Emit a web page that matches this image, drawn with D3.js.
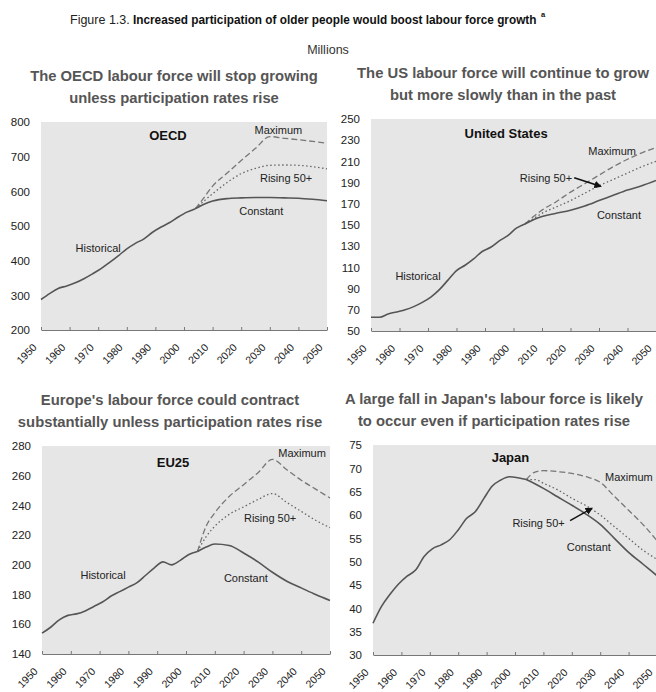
<!DOCTYPE html>
<html>
<head>
<meta charset="utf-8">
<script src="https://cdn.jsdelivr.net/npm/d3@7"></script>
<style>
  body { margin: 0; background: #fff; }
  svg { font-family: "Liberation Sans", Arial, sans-serif; }
</style>
</head>
<body>
<div id="chart"></div>
<script>
// Years for the historical and projected series
var histYears = [1950, 1953, 1956, 1959, 1962, 1965, 1968, 1971, 1974, 1977, 1980, 1983, 1986, 1989, 1992, 1995, 1998, 2001, 2004];
var projYears = [2004, 2007, 2010, 2015, 2020, 2025, 2030, 2035, 2040, 2045, 2050];
var xTickYears = [1950, 1960, 1970, 1980, 1990, 2000, 2010, 2020, 2030, 2040, 2050];

// OECD (millions)
var oecdHist = [288, 305, 320, 327, 336, 348, 362, 377, 395, 414, 434, 450, 463, 482, 497, 510, 526, 540, 550];
var oecdConstant = [550, 563, 572, 579, 581, 582, 582, 581, 580, 577, 573];
var oecdRising = [550, 572, 593, 625, 651, 666, 675, 676, 675, 671, 665];
var oecdMaximum = [550, 582, 615, 652, 689, 724, 758, 753, 749, 744, 739];

// United States
var usHist = [63, 63, 66, 68, 70, 73, 77, 82, 89, 98, 107, 112, 118, 125, 129, 135, 140, 147, 151];
var usConstant = [151, 155, 158, 161, 164, 168, 173, 178, 183, 187, 192];
var usRising = [151, 156, 161, 167, 173, 180, 187, 193, 199, 205, 210];
var usMaximum = [151, 158, 164, 172, 181, 189, 197, 205, 212, 218, 223];

// EU25
var euHist = [154, 158, 163, 166, 167, 169, 172, 175, 179, 182, 185, 188, 193, 198, 202, 200, 203, 207, 209];
var euConstant = [209, 212, 214, 213, 208, 202, 195, 189, 184.5, 180, 176];
var euRising = [209, 219, 226, 234, 239, 244, 248, 242, 236, 230, 225];
var euMaximum = [209, 226, 235, 246, 254, 262, 271, 264, 257, 251, 245];

// Japan
var jpHist = [36.8, 40.4, 43, 45.2, 46.9, 48.2, 51.1, 52.8, 53.6, 54.7, 56.8, 59.3, 60.7, 63.5, 66.2, 67.5, 68.2, 68.0, 67.6];
var jpConstant = [67.6, 66.7, 65.7, 63.9, 62.1, 60.2, 58, 55, 52, 49.5, 47];
var jpRising = [67.6, 67.6, 66.8, 65.4, 63.6, 62, 60, 57.5, 55, 52.5, 50.5];
var jpMaximum = [67.6, 69.2, 69.5, 69.3, 68.9, 68.2, 67, 64, 61, 58, 54.5];

var width = 656;
var height = 692;

var svg = d3.select("#chart")
  .append("svg")
  .attr("width", width)
  .attr("height", height);

// Figure heading
svg.append("text")
  .attr("x", 70)
  .attr("y", 24)
  .attr("font-size", 12.5)
  .attr("fill", "#222")
  .text("Figure 1.3.");
var bigTitle = svg.append("text")
  .attr("font-size", 12.5)
  .attr("font-weight", "bold")
  .attr("fill", "#111")
  .text("Increased participation of older people would boost labour force growth");
// squeeze the bold heading horizontally, the original type is condensed
var titleScale = 404 / bigTitle.node().getComputedTextLength();
bigTitle.attr("transform", "translate(133,24) scale(" + titleScale + ",1)");
svg.append("text")
  .attr("x", 541)
  .attr("y", 17)
  .attr("font-size", 7.5)
  .attr("font-weight", "bold")
  .attr("fill", "#111")
  .text("a");

svg.append("text")
  .attr("x", 328)
  .attr("y", 54)
  .attr("text-anchor", "middle")
  .attr("font-size", 12.5)
  .attr("fill", "#333")
  .text("Millions");

// panel setup: where each chart sits on the page
var panels = [
  {
    name: "OECD", left: 41, right: 327, top: 122, bottom: 330, titleX: 174,
    yDomain: [200, 800], yStep: 100,
    hist: oecdHist, constant: oecdConstant, rising: oecdRising, maximum: oecdMaximum,
    title: ["The OECD labour force will stop growing", "unless participation rates rise"],
    notes: [
      {text: "Maximum", year: 2033, value: 765},
      {text: "Rising 50+", year: 2035.7, value: 626},
      {text: "Constant", year: 2027, value: 533},
      {text: "Historical", year: 1970, value: 426}
    ],
    nameAt: {year: 1994.4, value: 748},
    arrow: null
  },
  {
    name: "United States", left: 371, right: 656, top: 119, bottom: 331, titleX: 503,
    yDomain: [50, 250], yStep: 20,
    hist: usHist, constant: usConstant, rising: usRising, maximum: usMaximum,
    title: ["The US labour force will continue to grow", "but more slowly than in the past"],
    notes: [
      {text: "Maximum", year: 2034.6, value: 216},
      {text: "Rising 50+", year: 2011.4, value: 191},
      {text: "Constant", year: 2037, value: 156},
      {text: "Historical", year: 1966.5, value: 98}
    ],
    nameAt: {year: 1997.4, value: 232},
    arrow: {from: [2021.3, 194.5], to: [2030.5, 186.5]}
  },
  {
    name: "EU25", left: 42, right: 330, top: 446, bottom: 654, titleX: 170,
    yDomain: [140, 280], yStep: 20,
    hist: euHist, constant: euConstant, rising: euRising, maximum: euMaximum,
    title: ["Europe's labour force could contract", "substantially unless participation rates rise"],
    notes: [
      {text: "Maximum", year: 2040.3, value: 272.6},
      {text: "Rising 50+", year: 2029.2, value: 228.8},
      {text: "Constant", year: 2020.8, value: 188.5},
      {text: "Historical", year: 1971.2, value: 190.5}
    ],
    nameAt: {year: 1995.5, value: 265.8},
    arrow: null
  },
  {
    name: "Japan", left: 373, right: 657, top: 445, bottom: 655, titleX: 494,
    yDomain: [30, 75], yStep: 5,
    hist: jpHist, constant: jpConstant, rising: jpRising, maximum: jpMaximum,
    title: ["A large fall in Japan's labour force is likely", "to occur even if participation rates rise"],
    notes: [
      {text: "Maximum", year: 2040.1, value: 67.3},
      {text: "Rising 50+", year: 2008.3, value: 57.4},
      {text: "Constant", year: 2026, value: 52.3}
    ],
    nameAt: {year: 1998.4, value: 71.4},
    arrow: {from: [2019.4, 58.8], to: [2027, 61.4]}
  }
];

// arrow head for the pointer lines
svg.append("defs").append("marker")
  .attr("id", "head")
  .attr("viewBox", "0 0 10 10")
  .attr("refX", 8)
  .attr("refY", 5)
  .attr("markerWidth", 5)
  .attr("markerHeight", 5)
  .attr("orient", "auto")
  .append("path")
  .attr("d", "M0,0L10,5L0,10z")
  .attr("fill", "#111");

panels.forEach(function(p) {
  var x = d3.scaleLinear().domain([1950, 2050]).range([p.left, p.right]);
  var y = d3.scaleLinear().domain(p.yDomain).range([p.bottom, p.top]);
  var g = svg.append("g");

  // panel title, two lines
  p.title.forEach(function(t, i) {
    g.append("text")
      .attr("x", p.titleX)
      .attr("y", p.top - 41 + i * 22)
      .attr("text-anchor", "middle")
      .attr("font-size", 14.8)
      .attr("font-weight", "bold")
      .attr("fill", "#555")
      .text(t);
  });

  // grey plot area
  g.append("rect")
    .attr("x", p.left)
    .attr("y", p.top)
    .attr("width", p.right - p.left)
    .attr("height", p.bottom - p.top)
    .attr("fill", "#e6e6e6");

  // y axis labels
  var yTicks = d3.range(p.yDomain[0], p.yDomain[1] + 0.001, p.yStep);
  var yAxis = g.append("g")
    .attr("transform", "translate(" + p.left + ",0)")
    .call(d3.axisLeft(y).tickValues(yTicks).tickSize(0).tickPadding(11));
  yAxis.select(".domain").remove();
  yAxis.selectAll("text")
    .attr("font-size", 11.5)
    .attr("fill", "#222")
    .attr("font-family", "Liberation Sans, Arial, sans-serif");

  // x axis with small ticks pointing up
  var xAxis = g.append("g")
    .attr("transform", "translate(0," + p.bottom + ")")
    .call(d3.axisBottom(x).tickValues(xTickYears).tickFormat(d3.format("d")).tickSizeInner(-3).tickSizeOuter(0).tickPadding(0));
  xAxis.select(".domain").attr("stroke", "#777");
  xAxis.selectAll(".tick line").attr("stroke", "#777");
  xAxis.selectAll("text")
    .attr("y", 0)
    .attr("dy", 0)
    .attr("transform", "translate(-4,18) rotate(-45)")
    .style("text-anchor", "end")
    .attr("font-size", 10.5)
    .attr("fill", "#222")
    .attr("font-family", "Liberation Sans, Arial, sans-serif");

  var line = d3.line()
    .x(function(d) { return x(d[0]); })
    .y(function(d) { return y(d[1]); })
    .curve(d3.curveMonotoneX);

  var histPts = d3.zip(histYears, p.hist);
  var series = [
    {pts: d3.zip(projYears, p.maximum), dash: "6,3", color: "#777", w: 1.3},
    {pts: d3.zip(projYears, p.rising), dash: "1.5,2.5", color: "#666", w: 1.3},
    {pts: d3.zip(projYears, p.constant), dash: null, color: "#555", w: 1.6},
    {pts: histPts, dash: null, color: "#555", w: 1.6}
  ];

  g.selectAll(".series")
    .data(series)
    .enter()
    .append("path")
    .attr("d", function(d) { return line(d.pts); })
    .attr("fill", "none")
    .attr("stroke", function(d) { return d.color; })
    .attr("stroke-width", function(d) { return d.w; })
    .attr("stroke-dasharray", function(d) { return d.dash; });

  // name of the area
  g.append("text")
    .attr("x", x(p.nameAt.year))
    .attr("y", y(p.nameAt.value))
    .attr("text-anchor", "middle")
    .attr("font-size", 13)
    .attr("font-weight", "bold")
    .attr("fill", "#111")
    .text(p.name);

  // scenario labels
  g.selectAll(".note")
    .data(p.notes)
    .enter()
    .append("text")
    .attr("x", function(d) { return x(d.year); })
    .attr("y", function(d) { return y(d.value); })
    .attr("text-anchor", "middle")
    .attr("font-size", 11)
    .attr("fill", "#222")
    .text(function(d) { return d.text; });

  if (p.arrow) {
    g.append("line")
      .attr("x1", x(p.arrow.from[0]))
      .attr("y1", y(p.arrow.from[1]))
      .attr("x2", x(p.arrow.to[0]))
      .attr("y2", y(p.arrow.to[1]))
      .attr("stroke", "#111")
      .attr("stroke-width", 1.5)
      .attr("marker-end", "url(#head)");
  }
});
</script>
</body>
</html>
